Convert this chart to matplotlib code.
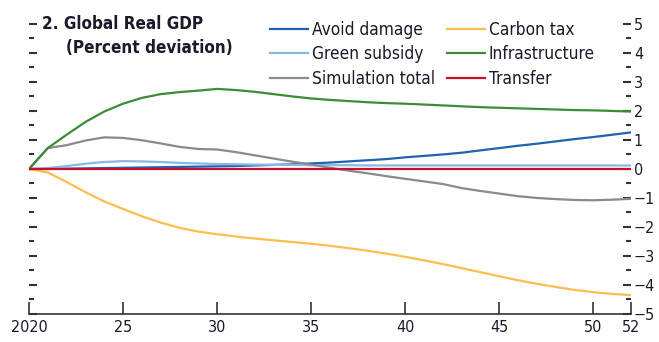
import matplotlib
matplotlib.use("Agg")
import matplotlib.pyplot as plt
from matplotlib import font_manager as fm
from matplotlib.ticker import MultipleLocator, FixedLocator

# narrow face if one is around, otherwise the Arial-like Liberation Sans
faces = {(f.name, f.stretch) for f in fm.fontManager.ttflist}
face_names = {n for n, _ in faces}
if "Liberation Sans Narrow" in face_names:
    plt.rcParams['font.family'] = ['Liberation Sans Narrow', 'DejaVu Sans']
    scale = 1.0
elif ("DejaVu Sans", "condensed") in faces:
    plt.rcParams['font.family'] = ['DejaVu Sans']
    plt.rcParams['font.stretch'] = 'condensed'
    scale = 0.92
else:
    plt.rcParams['font.family'] = ['Liberation Sans', 'DejaVu Sans']
    scale = 0.9
plt.rcParams['axes.unicode_minus'] = True

years = list(range(2020, 2053))

avoid_damage = [0.0, 0.0, 0.01, 0.02, 0.03, 0.04, 0.05, 0.06, 0.07, 0.08, 0.09,
                0.10, 0.12, 0.14, 0.16, 0.19, 0.22, 0.26, 0.30, 0.34, 0.40,
                0.45, 0.50, 0.56, 0.64, 0.72, 0.80, 0.87, 0.95, 1.03, 1.10,
                1.18, 1.26]
green_subsidy = [0.0, 0.03, 0.10, 0.18, 0.24, 0.27, 0.26, 0.24, 0.21, 0.19, 0.17,
                 0.16, 0.15, 0.14, 0.14, 0.13, 0.13, 0.13, 0.12, 0.12, 0.12,
                 0.12, 0.12, 0.12, 0.12, 0.12, 0.12, 0.12, 0.12, 0.12, 0.12,
                 0.12, 0.12]
simulation_total = [0.0, 0.72, 0.82, 0.98, 1.09, 1.07, 0.99, 0.88, 0.76, 0.69, 0.67,
                    0.58, 0.47, 0.36, 0.25, 0.15, 0.04, -0.06, -0.15, -0.25, -0.34,
                    -0.43, -0.52, -0.66, -0.76, -0.85, -0.94, -1.00, -1.04, -1.07, -1.08,
                    -1.06, -1.03]
carbon_tax = [0.0, -0.12, -0.45, -0.80, -1.12, -1.38, -1.63, -1.85, -2.03, -2.16, -2.25,
              -2.33, -2.40, -2.46, -2.52, -2.58, -2.65, -2.73, -2.82, -2.92, -3.03,
              -3.15, -3.28, -3.42, -3.56, -3.70, -3.84, -3.96, -4.07, -4.17, -4.25,
              -4.31, -4.35]
infrastructure = [0.0, 0.72, 1.18, 1.62, 1.98, 2.25, 2.45, 2.58, 2.65, 2.70, 2.76,
                  2.72, 2.66, 2.58, 2.50, 2.43, 2.38, 2.34, 2.30, 2.27, 2.25,
                  2.22, 2.19, 2.16, 2.13, 2.11, 2.09, 2.07, 2.05, 2.03, 2.02,
                  2.00, 1.98]
transfer = [0.0] * len(years)

xtick_pos = [2020, 2025, 2030, 2035, 2040, 2045, 2050, 2052]
xtick_labels = ["2020", "25", "30", "35", "40", "45", "50", "52"]

txt = "#1a1a2a"
fs = 12.5 * scale

fig = plt.figure(figsize=(6.59, 3.42), dpi=100)
ax = fig.add_axes([0.044, 0.082, 0.9135, 0.848])

# first legend column, then second
ax.plot(years, avoid_damage, color="#1f63b0", lw=1.6, label="Avoid damage")
ax.plot(years, green_subsidy, color="#86b9e3", lw=1.6, label="Green subsidy")
ax.plot(years, simulation_total, color="#8a8a8a", lw=1.6, label="Simulation total")
ax.plot(years, carbon_tax, color="#fdbd4f", lw=1.6, label="Carbon tax")
ax.plot(years, infrastructure, color="#3d8b37", lw=1.6, label="Infrastructure")
ax.plot(years, transfer, color="#c8102e", lw=1.6, label="Transfer")

ax.set_xlim(2020, 2052)
ax.set_ylim(-5, 5)

for s in ("left", "right", "top"):
    ax.spines[s].set_visible(False)
ax.spines["bottom"].set_color("#333333")
ax.spines["bottom"].set_linewidth(1.2)

ax.xaxis.set_major_locator(FixedLocator(xtick_pos))
ax.set_xticklabels(xtick_labels)
ax.tick_params(axis="x", direction="in", length=9, width=1.2, color="#333333",
               labelsize=fs, labelcolor=txt, pad=4)

ax.yaxis.set_major_locator(MultipleLocator(1))
ax.yaxis.set_minor_locator(MultipleLocator(0.5))
ax.tick_params(axis="y", which="both", direction="in", left=True, right=True,
               labelleft=False, labelright=True, color="#333333", width=1.5,
               labelsize=fs, labelcolor=txt, pad=2)
ax.tick_params(axis="y", which="major", length=6)
ax.tick_params(axis="y", which="minor", length=3.5)

fig.text(0.064, 0.931, "2. Global Real GDP", fontsize=13.3 * scale,
         fontweight="bold", color=txt, va="center")
fig.text(0.100, 0.860, "(Percent deviation)", fontsize=13.3 * scale,
         fontweight="bold", color=txt, va="center")

ax.legend(ncol=2, loc="upper left", bbox_to_anchor=(0.389, 1.033), frameon=False,
          fontsize=13.5 * scale, handlelength=2.2, handletextpad=0.25,
          columnspacing=0.65, labelspacing=0.36, borderaxespad=0, labelcolor=txt)

fig.savefig("out.png", dpi=100)
